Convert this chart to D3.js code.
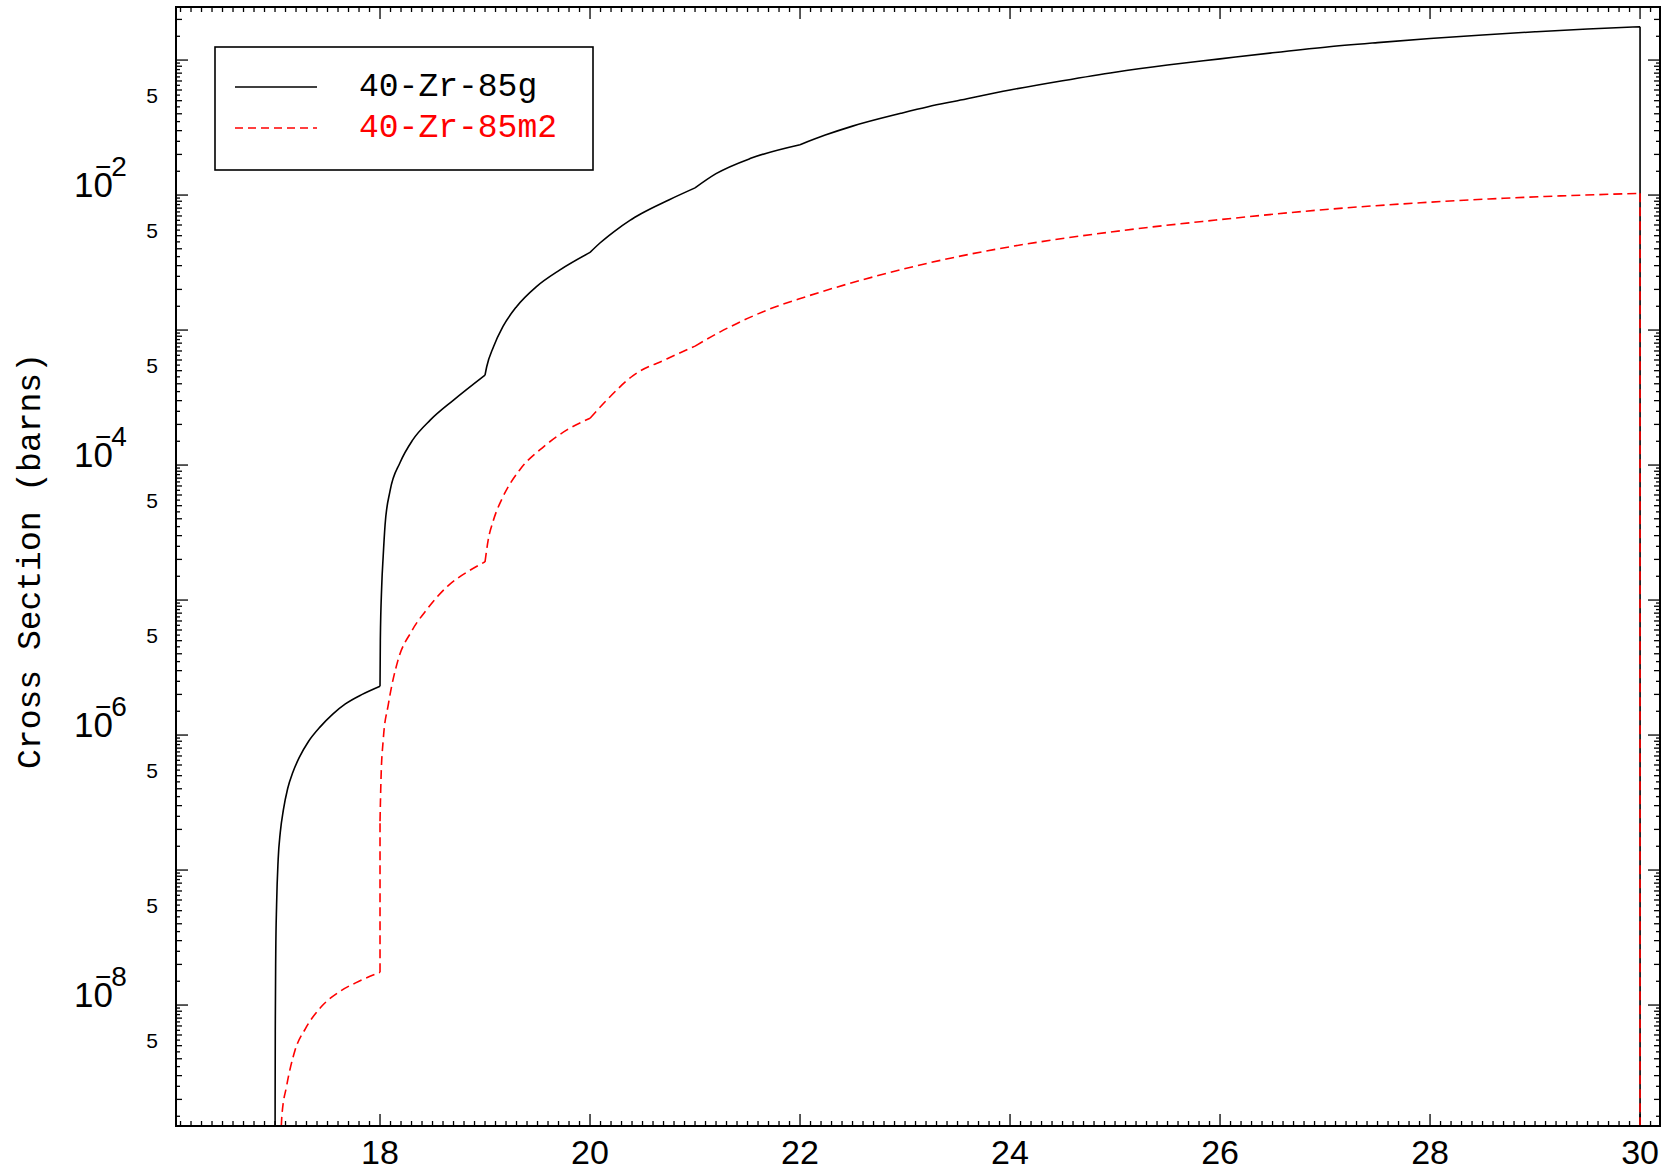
<!DOCTYPE html>
<meta charset="utf-8">
<style>
body { margin: 0; background: #fff; }
.num { font-family: "Liberation Sans", Arial, sans-serif; fill: #000; }
.mono { font-family: "Liberation Mono", "DejaVu Sans Mono", monospace; }
</style>
<body>
<script src="https://cdnjs.cloudflare.com/ajax/libs/d3/7.8.5/d3.min.js"></script>
<script>

// 40-Zr-85g (ground state), energy in MeV / cross section in barns
var gEnergy = [17.0, 17.001, 17.003, 17.007, 17.015, 17.03, 17.05, 17.08, 17.12, 17.17, 17.23, 17.32,
  17.43, 17.55, 17.67, 17.83, 18.0,
  18.003, 18.016, 18.03, 18.048, 18.095, 18.19, 18.31, 18.48, 18.7, 19.0,
  19.016, 19.08, 19.17, 19.3, 19.49, 19.71, 20.0,
  20.1, 20.22, 20.38, 20.49, 20.75, 21.0,
  21.2, 21.53, 22.0, 22.24, 22.5, 22.96, 23.22, 23.5,
  24.0, 24.5, 25.0, 25.5, 26.0, 26.5, 27.0, 27.5, 28.0, 28.5, 29.0, 29.5, 30.0, 30.0];
var gXs = [1e-10, 2e-9, 8e-9, 2.4e-8, 5.5e-8, 1.2e-7, 1.9e-7, 2.8e-7, 4.0e-7, 5.3e-7, 6.8e-7, 9.0e-7,
  1.15e-6, 1.43e-6, 1.7e-6, 2.0e-6, 2.3e-6,
  5e-6, 1.26e-5, 2.1e-5, 3.6e-5, 6.4e-5, 1.04e-4, 1.53e-4, 2.16e-4, 3.03e-4, 4.64e-4,
  5.35e-4, 7.5e-4, 1.06e-3, 1.49e-3, 2.1e-3, 2.78e-3, 3.76e-3,
  4.45e-3, 5.3e-3, 6.5e-3, 7.3e-3, 9.2e-3, 1.13e-2,
  1.44e-2, 1.87e-2, 2.36e-2, 2.78e-2, 3.24e-2, 4.03e-2, 4.51e-2, 5.0e-2,
  6.0e-2, 7.03e-2, 8.13e-2, 9.18e-2, 0.102, 0.1132, 0.1245, 0.1346, 0.1445, 0.1535, 0.162, 0.170, 0.1766, 1e-10];

// 40-Zr-85m2 (second isomer)
var m2Energy = [17.055, 17.065, 17.11, 17.19, 17.29, 17.44, 17.63, 17.8, 18.0,
  18.0, 18.01, 18.03, 18.08, 18.17, 18.3, 18.45, 18.65, 18.85, 19.0,
  19.03, 19.08, 19.17, 19.33, 19.56, 19.78, 20.0,
  20.16, 20.41, 20.73, 21.0, 21.24, 21.4, 21.7, 22.05, 22.7, 23.35, 24.0,
  24.98, 25.96, 26.94, 27.91, 28.89, 30.0, 30.0];
var m2Xs = [1.0e-9, 1.5e-9, 2.5e-9, 4.6e-9, 6.7e-9, 9.7e-9, 1.28e-8, 1.5e-8, 1.75e-8,
  2.3e-7, 4.9e-7, 9.1e-7, 1.7e-6, 3.56e-6, 5.86e-6, 8.6e-6, 1.28e-5, 1.65e-5, 1.92e-5,
  2.78e-5, 3.9e-5, 5.8e-5, 9.2e-5, 1.37e-4, 1.82e-4, 2.22e-4,
  3.03e-4, 4.6e-4, 6.1e-4, 7.6e-4, 9.7e-4, 1.12e-3, 1.42e-3, 1.76e-3, 2.48e-3, 3.3e-3, 4.14e-3,
  5.35e-3, 6.53e-3, 7.74e-3, 8.77e-3, 9.61e-3, 1.03e-2, 1e-10];

var seriesNames = ["40-Zr-85g", "40-Zr-85m2"];
var seriesColors = ["#000", "#ff0000"];

// energies where the curves have a corner (new channel opens)
var kinkEnergies = [18, 19, 20, 21, 22, 23];

var xTickLabels = [18, 20, 22, 24, 26, 28, 30];
var yDecadeLabels = [-2, -4, -6, -8];          // exponents shown as 10^n
var yFiveLabels = [-2, -3, -4, -5, -6, -7, -8, -9]; // "5" at 5 x 10^n

var width = 1673,
    height = 1174;

// plot box (note: "top" is reserved on window, so use a prefix)
var pLeft = 176, pRight = 1660, pTop = 7, pBottom = 1126;

var x = d3.scaleLinear()
    .domain([16.057, 30.19])
    .range([pLeft, pRight]);

var y = d3.scaleLog()
    .domain([Math.pow(10, -8.896), Math.pow(10, -0.607)])
    .range([pBottom, pTop]);

var svg = d3.select("body").append("svg")
    .attr("width", width)
    .attr("height", height);

svg.append("clipPath").attr("id", "plotclip")
  .append("rect")
    .attr("x", pLeft).attr("y", pTop)
    .attr("width", pRight - pLeft).attr("height", pBottom - pTop);

// ticks (inward, all four sides)
var ticks = svg.append("g").attr("stroke", "#000").attr("stroke-width", 1.3);

var xMinor = d3.range(161, 302).map(function(d) { return d / 10; });
xMinor.forEach(function(v) {
  var major = xTickLabels.indexOf(v) >= 0;
  var len = major ? 12 : 5;
  var px = x(v);
  if (px <= pLeft + 1 || px >= pRight - 1) return;
  ticks.append("line").attr("x1", px).attr("x2", px).attr("y1", pBottom).attr("y2", pBottom - len);
  ticks.append("line").attr("x1", px).attr("x2", px).attr("y1", pTop).attr("y2", pTop + len);
});

var yTicks = [];
for (var e = -9; e <= -1; e++) {
  for (var m = 1; m < 10; m += 0.5) {
    var v = m * Math.pow(10, e);
    if (v > y.domain()[0] && v < y.domain()[1]) {
      yTicks.push({ v: v, len: m === 1 ? 12 : (m % 1 === 0 ? 6 : 4) });
    }
  }
}
yTicks.forEach(function(t) {
  var py = y(t.v);
  ticks.append("line").attr("x1", pLeft).attr("x2", pLeft + t.len).attr("y1", py).attr("y2", py);
  ticks.append("line").attr("x1", pRight).attr("x2", pRight - t.len).attr("y1", py).attr("y2", py);
});

// x labels
svg.selectAll("text.xlab")
    .data(xTickLabels)
  .enter().append("text")
    .attr("class", "xlab num")
    .attr("x", function(d) { return x(d); })
    .attr("y", 1164)
    .attr("text-anchor", "middle")
    .style("font-size", "34px")
    .text(function(d) { return d; });

// y labels: 10^n with the IDL-style minus over the zero
yDecadeLabels.forEach(function(n) {
  var t = svg.append("text")
      .attr("class", "num")
      .attr("x", 74)
      .attr("y", y(Math.pow(10, n)) + 2)
      .style("font-size", "35px");
  t.append("tspan").text("10");
  t.append("tspan").attr("dx", -18).attr("dy", -21).style("font-size", "28px").text("\u2212");
  t.append("tspan").style("font-size", "28px").text(String(-n));
});

svg.selectAll("text.five")
    .data(yFiveLabels)
  .enter().append("text")
    .attr("class", "five num")
    .attr("x", 158)
    .attr("y", function(d) { return y(5 * Math.pow(10, d)) + 2; })
    .attr("text-anchor", "end")
    .style("font-size", "21px")
    .text("5");

svg.append("text")
    .attr("class", "mono")
    .attr("transform", "translate(40,561) rotate(-90)")
    .attr("text-anchor", "middle")
    .style("font-size", "33px")
    .text("Cross Section (barns)");

// curves: smooth between corners, straight for the vertical steps
var line = d3.line()
    .curve(d3.curveMonotoneX)
    .x(function(d) { return x(d[0]); })
    .y(function(d) { return y(d[1]); });

function pieces(pts) {
  var segs = [], cur = [pts[0]];
  for (var i = 1; i < pts.length; i++) {
    var p = pts[i], last = cur[cur.length - 1];
    if (p[0] === last[0]) {
      segs.push(cur);
      segs.push([last, p]);
      cur = [p];
      continue;
    }
    cur.push(p);
    if (kinkEnergies.indexOf(p[0]) >= 0) {
      segs.push(cur);
      cur = [p];
    }
  }
  segs.push(cur);
  return segs.filter(function(s) { return s.length > 1; })
      .map(function(s) { return line(s); }).join("");
}

var curves = svg.append("g").attr("clip-path", "url(#plotclip)").attr("fill", "none");

curves.append("path")
    .attr("stroke", seriesColors[0])
    .attr("stroke-width", 1.6)
    .attr("d", pieces(d3.zip(gEnergy, gXs)));

curves.append("path")
    .attr("stroke", seriesColors[1])
    .attr("stroke-width", 1.6)
    .attr("stroke-dasharray", "9,5")
    .attr("d", pieces(d3.zip(m2Energy, m2Xs)));

// frame
svg.append("rect")
    .attr("x", pLeft).attr("y", pTop)
    .attr("width", pRight - pLeft).attr("height", pBottom - pTop)
    .attr("fill", "none")
    .attr("stroke", "#000")
    .attr("stroke-width", 2);

// legend
var legend = svg.append("g");
legend.append("rect")
    .attr("x", 215).attr("y", 47)
    .attr("width", 378).attr("height", 123)
    .attr("fill", "#fff")
    .attr("stroke", "#000")
    .attr("stroke-width", 1.6);

seriesNames.forEach(function(name, i) {
  legend.append("line")
      .attr("x1", 235).attr("x2", 317)
      .attr("y1", 87 + i * 41).attr("y2", 87 + i * 41)
      .attr("stroke", seriesColors[i])
      .attr("stroke-width", 1.6)
      .attr("stroke-dasharray", i === 1 ? "8,5" : null);
  legend.append("text")
      .attr("class", "mono")
      .attr("x", 359)
      .attr("y", 96 + i * 41)
      .style("font-size", "33px")
      .attr("fill", seriesColors[i])
      .text(name);
});

</script>
